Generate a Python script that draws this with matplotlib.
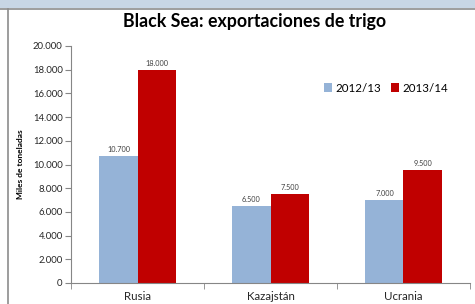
import matplotlib.pyplot as plt
import numpy as np
from matplotlib.patches import Rectangle
from matplotlib.lines import Line2D

# data
paises = ["Rusia", "Kazajstán", "Ucrania"]
v_2012 = [10700, 6500, 7000]
v_2013 = [18000, 7500, 9500]
series = ["2012/13", "2013/14"]

plt.rcParams["font.family"] = ["Lato", "DejaVu Sans"]

fig = plt.figure(figsize=(4.75, 3.04), dpi=100)
fig.patch.set_facecolor("white")

# top band and frame
fig.add_artist(Rectangle((0, 1 - 8 / 304), 1, 8 / 304, transform=fig.transFigure,
                         facecolor="#c8d6e5", edgecolor="none"))
fig.add_artist(Line2D([0, 1], [1 - 8.5 / 304, 1 - 8.5 / 304], transform=fig.transFigure,
                      color="#8c8c8c", lw=1.2))
fig.add_artist(Line2D([7.5 / 475, 7.5 / 475], [0, 1 - 8.5 / 304], transform=fig.transFigure,
                      color="#8c8c8c", lw=1.2))

ax = fig.add_axes([71 / 475, 21 / 304, 399 / 475, 237 / 304])

x = np.arange(len(paises))
w = 0.286
b1 = ax.bar(x - w / 2, v_2012, w, color="#95b3d7", label=series[0])
b2 = ax.bar(x + w / 2, v_2013, w, color="#c00000", label=series[1])

for bars in (b1, b2):
    for r in bars:
        h = r.get_height()
        ax.text(r.get_x() + r.get_width() / 2, h + 250, f"{h:,.0f}".replace(",", "."),
                ha="center", va="bottom", fontsize=5.3, color="#404040")

ax.set_xlim(-0.5, 2.5)
ax.set_ylim(0, 20000)
ax.set_yticks(np.arange(0, 20001, 2000))
ax.set_yticklabels([f"{v:,.0f}".replace(",", ".") for v in np.arange(0, 20001, 2000)],
                   fontsize=6.8, color="#262626")
ax.set_xticks(x)
ax.set_xticklabels(paises, fontsize=8.3, color="#262626")
ax.set_xticks([-0.5, 0.5, 1.5, 2.5], minor=True)
ax.tick_params(axis="x", which="major", length=0, pad=6)
ax.tick_params(axis="x", which="minor", length=4, color="#868686")
ax.tick_params(axis="y", length=4, color="#868686", pad=2)

for s in ["top", "right"]:
    ax.spines[s].set_visible(False)
ax.spines["left"].set_color("#868686")
ax.spines["bottom"].set_color("#868686")

ax.set_ylabel("Miles de toneladas", fontsize=6, fontweight="bold", labelpad=6)

fig.text(255 / 475, 1 - 22 / 304, "Black Sea: exportaciones de trigo",
         ha="center", va="center", fontsize=12.8, fontweight="bold")

ax.legend(loc="center", bbox_to_anchor=(386 / 475, 1 - 88 / 304),
          bbox_transform=fig.transFigure, ncol=2, frameon=False, fontsize=8.3,
          handlelength=0.7, handleheight=0.7, handletextpad=0.3, columnspacing=0.9)

fig.savefig("out.png", dpi=100)
